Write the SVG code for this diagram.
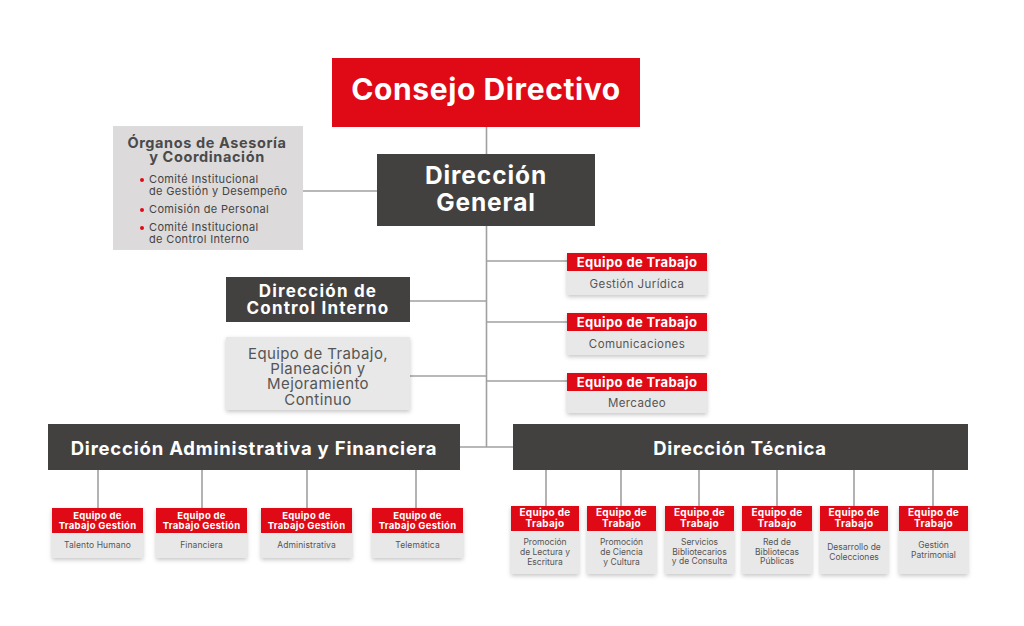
<svg xmlns="http://www.w3.org/2000/svg" width="1024" height="626" viewBox="0 0 1024 626">
<defs>
<filter id="sh" x="-20%" y="-20%" width="140%" height="150%">
<feDropShadow dx="0" dy="2" stdDeviation="2" flood-color="#000" flood-opacity="0.22"/>
</filter>
<style>
.red{fill:#E00A17}
.dark{fill:#434140}
.lite{fill:#E8E8E8}
.ln{stroke:#A0A0A0;stroke-width:1.6;fill:none}
.hb{font-family:Inter,"Liberation Sans",sans-serif;font-weight:700;fill:#fff;text-anchor:middle}
.bt{font-family:Inter,"Liberation Sans",sans-serif;fill:#555;text-anchor:middle}
</style>
</defs>
<rect width="1024" height="626" fill="#fff"/>
<g id="connectors" class="ln">
<path d="M486.5 127V447"/>
<path d="M303 191H377"/>
<path d="M410 301H486"/>
<path d="M410 376H486"/>
<path d="M486 261H567"/>
<path d="M486 322H567"/>
<path d="M486 381H567"/>
<path d="M460 447H513"/>
<path d="M98 470V508M202 470V508M307 470V508M416 470V508"/>
<path d="M546 470V506M621 470V506M699 470V506M777 470V506M854 470V506M933 470V506"/>
</g>
<g id="consejo">
<rect class="red" x="332" y="58" width="308" height="69"/>
<text class="hb" x="486" y="100" font-size="30" font-weight="800" letter-spacing="0.6">Consejo Directivo</text>
</g>
<g id="direccion-general">
<rect class="dark" x="377" y="154" width="218" height="72"/>
<text class="hb" x="486" y="184" font-size="24.5" font-weight="600" letter-spacing="0.9">Dirección</text>
<text class="hb" x="486" y="211" font-size="24.5" font-weight="600" letter-spacing="0.9">General</text>
</g>
<g id="organos">
<rect x="113" y="126" width="190" height="124" fill="#DCDADB"/>
<text x="207" y="148" font-family="Inter,'Liberation Sans',sans-serif" font-weight="700" font-size="14.5" letter-spacing="0.6" fill="#4a4a4a" text-anchor="middle">Órganos de Asesoría</text>
<text x="207" y="162" font-family="Inter,'Liberation Sans',sans-serif" font-weight="700" font-size="14.5" letter-spacing="0.6" fill="#4a4a4a" text-anchor="middle">y Coordinación</text>
<g fill="#E00A17"><circle cx="142" cy="180" r="2"/><circle cx="142" cy="210" r="2"/><circle cx="142" cy="228" r="2"/></g>
<g font-family="Inter,'Liberation Sans',sans-serif" font-size="11" letter-spacing="0.35" fill="#444">
<text x="149" y="183">Comité Institucional</text>
<text x="149" y="194.5">de Gestión y Desempeño</text>
<text x="149" y="213">Comisión de Personal</text>
<text x="149" y="231">Comité Institucional</text>
<text x="149" y="242.5">de Control Interno</text>
</g>
</g>
<g id="control-interno">
<rect class="dark" x="226" y="277" width="184" height="45"/>
<text class="hb" x="318" y="296.5" font-size="17" letter-spacing="1.2">Dirección de</text>
<text class="hb" x="318" y="314" font-size="17" letter-spacing="1.2">Control Interno</text>
</g>
<g id="planeacion">
<rect class="lite" x="226" y="337" width="184" height="73" filter="url(#sh)"/>
<g class="bt" font-size="15" letter-spacing="0.4" fill="#444">
<text x="318" y="359">Equipo de Trabajo,</text>
<text x="318" y="374">Planeación y</text>
<text x="318" y="389">Mejoramiento</text>
<text x="318" y="405">Continuo</text>
</g>
</g>
<g id="juridica">
<rect class="lite" x="567" y="253" width="140" height="42" filter="url(#sh)"/>
<rect class="red" x="567" y="253" width="140" height="18"/>
<text class="hb" x="637" y="266.5" font-size="13" letter-spacing="0.4">Equipo de Trabajo</text>
<text class="bt" x="637" y="288" font-size="11.5" letter-spacing="0.4">Gestión Jurídica</text>
</g>
<g id="comunicaciones">
<rect class="lite" x="567" y="313" width="140" height="42" filter="url(#sh)"/>
<rect class="red" x="567" y="313" width="140" height="18"/>
<text class="hb" x="637" y="326.5" font-size="13" letter-spacing="0.4">Equipo de Trabajo</text>
<text class="bt" x="637" y="348" font-size="11.5" letter-spacing="0.4">Comunicaciones</text>
</g>
<g id="mercadeo">
<rect class="lite" x="567" y="373" width="140" height="40" filter="url(#sh)"/>
<rect class="red" x="567" y="373" width="140" height="18"/>
<text class="hb" x="637" y="386.5" font-size="13" letter-spacing="0.4">Equipo de Trabajo</text>
<text class="bt" x="637" y="407" font-size="11.5" letter-spacing="0.4">Mercadeo</text>
</g>
<g id="admin">
<rect class="dark" x="48" y="424" width="412" height="46"/>
<text class="hb" x="254" y="454.5" font-size="18.5" letter-spacing="0.8">Dirección Administrativa y Financiera</text>
</g>
<g id="tecnica">
<rect class="dark" x="513" y="424" width="455" height="46"/>
<text class="hb" x="740" y="454.5" font-size="18.5" letter-spacing="0.7">Dirección Técnica</text>
</g>
<g id="talento">
<rect class="lite" x="52" y="508" width="91" height="50" filter="url(#sh)"/>
<rect class="red" x="52" y="508" width="91" height="25"/>
<text class="hb" x="97.5" y="518.5" font-size="9.5" letter-spacing="0.3">Equipo de</text>
<text class="hb" x="97.5" y="529" font-size="9.5" letter-spacing="0.3">Trabajo Gestión</text>
<text class="bt" x="97.5" y="548" font-size="8.5" letter-spacing="0.1">Talento Humano</text>
</g>
<g id="financiera">
<rect class="lite" x="156" y="508" width="91" height="50" filter="url(#sh)"/>
<rect class="red" x="156" y="508" width="91" height="25"/>
<text class="hb" x="201.5" y="518.5" font-size="9.5" letter-spacing="0.3">Equipo de</text>
<text class="hb" x="201.5" y="529" font-size="9.5" letter-spacing="0.3">Trabajo Gestión</text>
<text class="bt" x="201.5" y="548" font-size="8.5" letter-spacing="0.1">Financiera</text>
</g>
<g id="administrativa">
<rect class="lite" x="261" y="508" width="91" height="50" filter="url(#sh)"/>
<rect class="red" x="261" y="508" width="91" height="25"/>
<text class="hb" x="306.5" y="518.5" font-size="9.5" letter-spacing="0.3">Equipo de</text>
<text class="hb" x="306.5" y="529" font-size="9.5" letter-spacing="0.3">Trabajo Gestión</text>
<text class="bt" x="306.5" y="548" font-size="8.5" letter-spacing="0.1">Administrativa</text>
</g>
<g id="telematica">
<rect class="lite" x="372" y="508" width="91" height="50" filter="url(#sh)"/>
<rect class="red" x="372" y="508" width="91" height="25"/>
<text class="hb" x="417.5" y="518.5" font-size="9.5" letter-spacing="0.3">Equipo de</text>
<text class="hb" x="417.5" y="529" font-size="9.5" letter-spacing="0.3">Trabajo Gestión</text>
<text class="bt" x="417.5" y="548" font-size="8.5" letter-spacing="0.1">Telemática</text>
</g>
<g id="lectura">
<rect class="lite" x="511" y="506" width="68" height="68" filter="url(#sh)"/>
<rect class="red" x="511" y="506" width="68" height="25"/>
<text class="hb" x="545" y="516" font-size="10" letter-spacing="0.3">Equipo de</text>
<text class="hb" x="545" y="527" font-size="10" letter-spacing="0.3">Trabajo</text>
<text class="bt" x="545" y="545" font-size="8.5">Promoción</text>
<text class="bt" x="545" y="555" font-size="8.5">de Lectura y</text>
<text class="bt" x="545" y="565" font-size="8.5">Escritura</text>
</g>
<g id="ciencia">
<rect class="lite" x="587" y="506" width="69" height="68" filter="url(#sh)"/>
<rect class="red" x="587" y="506" width="69" height="25"/>
<text class="hb" x="621.5" y="516" font-size="10" letter-spacing="0.3">Equipo de</text>
<text class="hb" x="621.5" y="527" font-size="10" letter-spacing="0.3">Trabajo</text>
<text class="bt" x="621.5" y="545" font-size="8.5">Promoción</text>
<text class="bt" x="621.5" y="555" font-size="8.5">de Ciencia</text>
<text class="bt" x="621.5" y="565" font-size="8.5">y Cultura</text>
</g>
<g id="servicios">
<rect class="lite" x="665" y="506" width="69" height="68" filter="url(#sh)"/>
<rect class="red" x="665" y="506" width="69" height="25"/>
<text class="hb" x="699.5" y="516" font-size="10" letter-spacing="0.3">Equipo de</text>
<text class="hb" x="699.5" y="527" font-size="10" letter-spacing="0.3">Trabajo</text>
<text class="bt" x="699.5" y="545" font-size="8.5">Servicios</text>
<text class="bt" x="699.5" y="554.5" font-size="8.5">Bibliotecarios</text>
<text class="bt" x="699.5" y="564" font-size="8.5">y de Consulta</text>
</g>
<g id="red-bibliotecas">
<rect class="lite" x="742" y="506" width="70" height="68" filter="url(#sh)"/>
<rect class="red" x="742" y="506" width="70" height="25"/>
<text class="hb" x="777" y="516" font-size="10" letter-spacing="0.3">Equipo de</text>
<text class="hb" x="777" y="527" font-size="10" letter-spacing="0.3">Trabajo</text>
<text class="bt" x="777" y="545" font-size="8.5">Red de</text>
<text class="bt" x="777" y="554.5" font-size="8.5">Bibliotecas</text>
<text class="bt" x="777" y="564" font-size="8.5">Públicas</text>
</g>
<g id="colecciones">
<rect class="lite" x="820" y="506" width="68" height="68" filter="url(#sh)"/>
<rect class="red" x="820" y="506" width="68" height="25"/>
<text class="hb" x="854" y="516" font-size="10" letter-spacing="0.3">Equipo de</text>
<text class="hb" x="854" y="527" font-size="10" letter-spacing="0.3">Trabajo</text>
<text class="bt" x="854" y="550" font-size="8.5">Desarrollo de</text>
<text class="bt" x="854" y="559.5" font-size="8.5">Colecciones</text>
</g>
<g id="patrimonial">
<rect class="lite" x="899" y="506" width="69" height="68" filter="url(#sh)"/>
<rect class="red" x="899" y="506" width="69" height="25"/>
<text class="hb" x="933.5" y="516" font-size="10" letter-spacing="0.3">Equipo de</text>
<text class="hb" x="933.5" y="527" font-size="10" letter-spacing="0.3">Trabajo</text>
<text class="bt" x="933.5" y="548" font-size="8.5">Gestión</text>
<text class="bt" x="933.5" y="558" font-size="8.5">Patrimonial</text>
</g>
</svg>
